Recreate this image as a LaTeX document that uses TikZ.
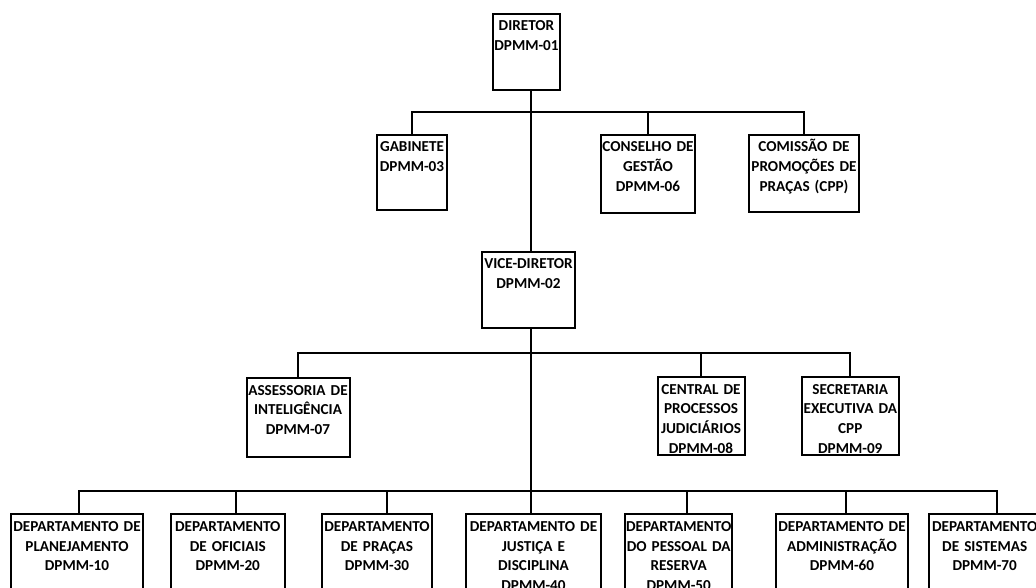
\documentclass[tikz,border=0pt]{standalone}
\usepackage{fontspec}
\setmainfont{Carlito}
\usepackage{tikz}

\begin{document}
\begin{tikzpicture}[x=1pt, y=-1pt]
        \useasboundingbox (0,0) rectangle (1036,588);
        \clip (0,0) rectangle (1036,588);

        % Estilos das caixas e das linhas.
        \tikzstyle{caixa} = [draw, line width=2pt, anchor=north, align=center, inner xsep=0.5pt, inner ysep=1pt, text height=16pt, font=\bfseries\fontsize{15.2}{19.7}\selectfont]
        \tikzstyle{linha} = [line width=2pt]

        % Direção.
        \node[caixa, text width=66pt, text depth=58pt] (dir) at (526.5,13) {DIRETOR\\DPMM-01};
        \node[caixa, text width=69pt, text depth=57pt] (gab) at (412,134) {GABINETE\\DPMM-03};
        \node[caixa, text width=93pt, text depth=60pt] (cons) at (648,134) {CONSELHO DE\\GESTÃO\\DPMM-06};
        \node[caixa, text width=109pt, text depth=59pt] (com) at (804,134) {COMISSÃO DE\\PROMOÇÕES DE\\PRAÇAS (CPP)};

        % Vice-direção.
        \node[caixa, text width=92pt, text depth=58pt] (vice) at (528.5,251) {VICE-DIRETOR\\DPMM-02};
        \node[caixa, text width=102pt, text depth=61pt] (ass) at (298,377) {ASSESSORIA DE\\INTELIGÊNCIA\\DPMM-07};
        \node[caixa, text width=86pt, text depth=60pt] (cen) at (701,376) {CENTRAL DE\\PROCESSOS\\JUDICIÁRIOS\\DPMM-08};
        \node[caixa, text width=96pt, text depth=60pt] (sec) at (850.3,376) {SECRETARIA\\EXECUTIVA DA\\CPP\\DPMM-09};

        % Departamentos.
        \node[caixa, text width=131.6pt, text depth=100pt] (pla) at (77,513.3) {DEPARTAMENTO DE\\PLANEJAMENTO\\DPMM-10};
        \node[caixa, text width=113.3pt, text depth=100pt] (ofi) at (227.8,513.3) {DEPARTAMENTO\\DE OFICIAIS\\DPMM-20};
        \node[caixa, text width=109.6pt, text depth=100pt] (pra) at (377,513.3) {DEPARTAMENTO\\DE PRAÇAS\\DPMM-30};
        \node[caixa, text width=134pt, text depth=100pt] (jus) at (533.5,513.3) {DEPARTAMENTO DE\\JUSTIÇA E\\DISCIPLINA\\DPMM-40};
        \node[caixa, text width=106.3pt, text depth=100pt] (res) at (678.7,513.3) {DEPARTAMENTO\\DO PESSOAL DA\\RESERVA\\DPMM-50};
        \node[caixa, text width=130.7pt, text depth=100pt] (adm) at (842,513.3) {DEPARTAMENTO DE\\ADMINISTRAÇÃO\\DPMM-60};
        \node[caixa, text width=111pt, text depth=100pt] (sis) at (984.7,513.3) {DEPARTAMENTO\\DE SISTEMAS\\DPMM-70};

        % Barramentos.
        \coordinate (b1) at (530.5,112);
        \coordinate (b2) at (530.5,352.7);
        \coordinate (b3) at (530.5,490.7);

        % Linhas.
        \draw[linha] ([xshift=4pt]dir.south) -- ([xshift=2pt]vice.north);
        \draw[linha] ([xshift=2pt]vice.south) -- (b3);
        \foreach \n in {gab, cons, com}
            \draw[linha] (\n.north) |- (b1);
        \foreach \n in {ass, cen, sec}
            \draw[linha] (\n.north) |- (b2);
        \foreach \n/\d in {pla/2, ofi/8, pra/10, jus/-3, res/8.6, adm/4, sis/12.3}
            \draw[linha] ([xshift=\d pt]\n.north) |- (b3);
\end{tikzpicture}
\end{document}
